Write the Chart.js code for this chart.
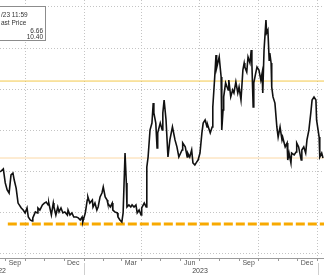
<!DOCTYPE html>
<html>
<head>
<meta charset="utf-8">
<script src="https://cdn.jsdelivr.net/npm/chart.js@4/dist/chart.umd.min.js"></script>
<style>
html,body{margin:0;padding:0;background:#fff;overflow:hidden;}
#wrap{width:324px;height:275px;position:relative;}
</style>
</head>
<body>
<div id="wrap"><canvas id="c" width="324" height="275"></canvas></div>
<script>
// ---- data ----
const dates = [
'2022-08-23','2022-08-28','2022-08-31','2022-09-03','2022-09-06','2022-09-09','2022-09-12','2022-09-14','2022-09-17','2022-09-20',
'2022-09-25','2022-09-28','2022-10-01','2022-10-04','2022-10-06','2022-10-09','2022-10-12','2022-10-13','2022-10-17','2022-10-20',
'2022-10-21','2022-10-24','2022-10-28','2022-10-31','2022-11-03','2022-11-06','2022-11-07','2022-11-11','2022-11-14','2022-11-15',
'2022-11-18','2022-11-21','2022-11-23','2022-11-26','2022-11-29','2022-12-02','2022-12-06','2022-12-07','2022-12-10','2022-12-13',
'2022-12-16','2022-12-20','2022-12-23','2022-12-26','2022-12-29','2022-12-30','2023-01-03','2023-01-06','2023-01-07','2023-01-10',
'2023-01-14','2023-01-15','2023-01-18','2023-01-21','2023-01-23','2023-01-26','2023-01-29','2023-01-31','2023-02-03','2023-02-06',
'2023-02-07','2023-02-11','2023-02-14','2023-02-15','2023-02-18','2023-02-22','2023-02-23','2023-02-26','2023-03-01','2023-03-03',
'2023-03-06','2023-03-08','2023-03-09','2023-03-12','2023-03-15','2023-03-17','2023-03-20','2023-03-23','2023-03-25','2023-03-28',
'2023-03-31','2023-04-01','2023-04-05','2023-04-08','2023-04-09','2023-04-11','2023-04-14','2023-04-17','2023-04-19','2023-04-20',
'2023-04-23','2023-04-25','2023-04-26','2023-04-30','2023-05-03','2023-05-04','2023-05-06','2023-05-09','2023-05-12','2023-05-15',
'2023-05-19','2023-05-23','2023-05-26','2023-05-29','2023-06-03','2023-06-04','2023-06-08','2023-06-11','2023-06-12','2023-06-15',
'2023-06-18','2023-06-20','2023-06-23','2023-06-26','2023-06-28','2023-07-01','2023-07-04','2023-07-06','2023-07-09','2023-07-12',
'2023-07-13','2023-07-17','2023-07-20','2023-07-21','2023-07-24','2023-07-26','2023-07-27','2023-07-31','2023-08-03','2023-08-04',
'2023-08-06','2023-08-07','2023-08-10','2023-08-14','2023-08-15','2023-08-18','2023-08-21','2023-08-23','2023-08-26','2023-08-29',
'2023-08-31','2023-09-03','2023-09-06','2023-09-08','2023-09-09','2023-09-12','2023-09-14','2023-09-17','2023-09-19','2023-09-20',
'2023-09-22','2023-09-23','2023-09-26','2023-09-28','2023-10-01','2023-10-04','2023-10-06','2023-10-07','2023-10-09','2023-10-12',
'2023-10-13','2023-10-15','2023-10-17','2023-10-18','2023-10-20','2023-10-21','2023-10-23','2023-10-26','2023-10-29','2023-10-31',
'2023-11-03','2023-11-06','2023-11-07','2023-11-11','2023-11-14','2023-11-15','2023-11-17','2023-11-20','2023-11-21','2023-11-25',
'2023-11-28','2023-11-29','2023-12-02','2023-12-06','2023-12-07','2023-12-10','2023-12-13','2023-12-15','2023-12-18','2023-12-21',
'2023-12-23','2023-12-26','2023-12-29','2023-12-30','2024-01-03','2024-01-04','2024-01-07','2024-01-09'
];
const lastPrice = [
5.98,6.13,5.45,5.11,4.96,5.84,5.93,5.59,5.20,4.47,
4.23,4.13,3.99,4.23,3.79,3.65,3.60,3.75,4.04,3.99,
4.23,4.13,4.38,4.47,4.52,4.38,4.47,3.89,4.47,4.28,
3.89,4.28,4.04,4.23,3.99,4.04,3.89,4.13,3.89,3.99,
3.79,3.79,3.75,3.65,3.79,3.55,3.99,4.62,4.77,4.47,
4.62,4.28,4.47,4.13,4.28,4.77,4.96,5.25,4.77,4.62,
4.47,4.28,4.47,4.13,4.04,3.99,3.79,3.65,3.55,3.99,
6.90,5.45,4.28,4.38,4.28,4.38,4.28,4.38,3.99,4.13,
3.89,4.23,4.47,4.28,6.22,6.71,8.02,8.36,9.33,8.85,
8.36,7.15,7.88,8.36,8.02,8.85,9.48,8.51,6.71,7.54,
8.17,7.54,7.20,6.71,7.05,7.39,7.20,6.71,6.90,6.71,
7.05,6.42,6.32,6.47,6.56,6.90,7.88,8.36,8.51,8.17,
8.27,7.88,8.17,9.14,10.60,11.67,11.04,11.57,10.60,8.02,
8.99,9.63,10.31,9.97,10.45,9.63,9.97,9.82,10.36,9.82,
10.11,9.48,10.94,11.28,11.08,10.84,11.57,11.28,11.91,11.28,
9.14,10.31,10.79,11.08,10.94,10.45,10.79,9.82,11.91,13.37,
12.74,12.88,11.42,11.76,11.28,10.11,9.63,9.33,8.17,7.68,
8.17,7.54,7.68,7.20,7.39,6.56,6.90,6.42,6.90,6.81,
6.95,7.39,7.20,6.56,7.05,7.20,6.90,7.54,8.02,8.85,
9.48,9.63,9.48,8.51,7.68,6.71,6.90,6.66
];
const legendLines = ['/23 11:59', 'ast Price'];
const legendValues = ['6.66', '10.40'];
const upperLevel = 10.40;
const lastLevel = 6.66;
const floorLevel = 3.45;
const floorStart = '2022-09-04';
const viewStart = '2022-08-23';
const viewEnd = '2024-01-10';
const yTicks = [2, 4, 6, 8, 10, 12, 14];
const yMin = 1.80, yMax = 14.34;
const monthStarts = ['2022-08-01','2022-09-01','2022-10-01','2022-11-01','2022-12-01','2023-01-01','2023-02-01','2023-03-01',
  '2023-04-01','2023-05-01','2023-06-01','2023-07-01','2023-08-01','2023-09-01','2023-10-01','2023-11-01','2023-12-01','2024-01-01','2024-02-01'];
const quarterStarts = ['2022-10-01','2023-01-01','2023-04-01','2023-07-01','2023-10-01','2024-01-01'];
const monthLabels = ['Sep','Dec','Mar','Jun','Sep','Dec'];
const monthLabelDates = ['2022-09-15','2022-12-15','2023-03-15','2023-06-15','2023-09-15','2023-12-15'];
const yearLabels = ['2022','2023'];
const yearLabelDates = ['2022-08-20','2023-07-01'];
const yearBreaks = ['2023-01-01','2024-01-01'];

// ---- helpers ----
const EPOCH = Date.UTC(2022, 9, 1);
function day(s){ const p = s.split('-').map(Number); return (Date.UTC(p[0], p[1]-1, p[2]) - EPOCH) / 86400000; }
const xMin = day(viewStart) - 0.2, xMax = day(viewEnd) + 0.6;
const quarterSet = new Set(quarterStarts.map(day));

const priceData = dates.map((d, i) => ({x: day(d), y: lastPrice[i]}));

const FONT = '"Liberation Sans", Arial, sans-serif';

const overlay = {
  id: 'overlay',
  afterDraw(chart) {
    const ctx = chart.ctx, xs = chart.scales.x;
    ctx.save();
    ctx.fillStyle = '#555';
    ctx.font = '7px ' + FONT;
    ctx.textAlign = 'center';
    ctx.textBaseline = 'middle';
    monthLabels.forEach((t, i) => ctx.fillText(t, xs.getPixelForValue(day(monthLabelDates[i])), 263.5));
    ctx.fillStyle = '#444';
    yearLabels.forEach((t, i) => ctx.fillText(t, xs.getPixelForValue(day(yearLabelDates[i])), 271));
    ctx.strokeStyle = '#cfcfcf';
    ctx.lineWidth = 1;
    yearBreaks.forEach(d => {
      const px = Math.round(xs.getPixelForValue(day(d))) + 0.5;
      ctx.beginPath(); ctx.moveTo(px, 263); ctx.lineTo(px, 275); ctx.stroke();
    });
    // legend box (cropped at left)
    ctx.fillStyle = '#fff';
    ctx.fillRect(-5, 6, 50, 34);
    ctx.strokeStyle = '#8c8c8c';
    ctx.strokeRect(-5.5, 6.5, 51, 34);
    ctx.fillStyle = '#333';
    ctx.font = '6.5px ' + FONT;
    ctx.textAlign = 'left';
    ctx.fillText(legendLines[0], 1, 15);
    ctx.fillText(legendLines[1], 1, 23);
    ctx.textAlign = 'right';
    ctx.fillText(legendValues[0], 43, 31.5);
    ctx.fillText(legendValues[1], 43, 37);
    ctx.restore();
  }
};

new Chart(document.getElementById('c'), {
  type: 'line',
  data: {
    datasets: [
      { data: priceData, borderColor: '#111', borderWidth: 1.6, pointRadius: 0, tension: 0, order: 1 },
      { data: [{x: xMin, y: upperLevel}, {x: xMax, y: upperLevel}], borderColor: '#f3c84a', borderWidth: 1, pointRadius: 0, order: 3 },
      { data: [{x: xMin, y: lastLevel}, {x: xMax, y: lastLevel}], borderColor: '#fbd8a6', borderWidth: 1, pointRadius: 0, order: 3 },
      { data: [{x: day(floorStart), y: floorLevel}, {x: xMax, y: floorLevel}], borderColor: '#f8a900', borderWidth: 3, borderDash: [9, 3], pointRadius: 0, order: 2 }
    ]
  },
  options: {
    responsive: false,
    animation: false,
    devicePixelRatio: 1,
    layout: { padding: { left: 0, right: 0, top: 0, bottom: 14 } },
    plugins: { legend: { display: false }, tooltip: { enabled: false } },
    scales: {
      x: {
        type: 'linear', min: xMin, max: xMax,
        afterBuildTicks: s => { s.ticks = monthStarts.map(d => ({value: day(d)})); },
        ticks: { display: false },
        grid: {
          color: c => (c.tick && quarterSet.has(c.tick.value)) ? '#c4c4c4' : 'rgba(0,0,0,0)',
          tickColor: '#999', tickLength: 3, drawTicks: true, lineWidth: 1, tickBorderDash: []
        },
        border: { display: true, color: '#9a9a9a', width: 1, dash: [1, 2] }
      },
      y: {
        min: yMin, max: yMax,
        afterBuildTicks: s => { s.ticks = yTicks.map(v => ({value: v})); },
        ticks: { display: false },
        grid: { color: '#c4c4c4', drawTicks: false, lineWidth: 1 },
        border: { display: false, dash: [1, 2] }
      }
    }
  },
  plugins: [overlay]
});
</script>
</body>
</html>
